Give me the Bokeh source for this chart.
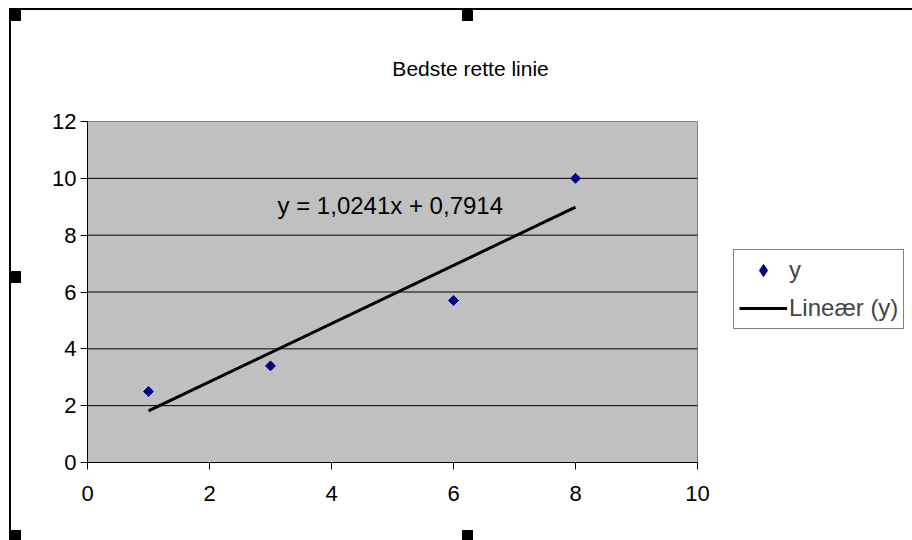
import numpy as np
from bokeh.plotting import figure
from bokeh.models import (Legend, LegendItem, Label, FixedTicker, Range1d,
                          InlineStyleSheet)
from bokeh.embed import file_html
from bokeh.resources import INLINE

# ---- data ----
x_vals = [1, 3, 6, 8]
y_vals = [2.5, 3.4, 5.7, 10]
slope = 1.0241
intercept = 0.7914
x_ticks = [0, 2, 4, 6, 8, 10]
y_ticks = [0, 2, 4, 6, 8, 10, 12]
grid_ticks = [2, 4, 6, 8, 10]
x_min, x_max = 0, 10
y_min, y_max = 0, 12
title_text = "Bedste rette linie"
equation_text = "y = 1,0241x + 0,7914"
series_name = "y"
trend_name = "Lineær (y)"

FONT = "Liberation Sans"

# page geometry (pixels)
W, H = 912, 540
PL, PR, PT, PB = 87, 697, 121, 462          # plot-area edges
frame_w = W - PL
frame_h = PB
x_end = x_min + (x_max - x_min) * frame_w / (PR - PL)
y_end = y_min + (y_max - y_min) * frame_h / (PB - PT)

p = figure(width=W, height=H, output_backend="svg", toolbar_location=None,
           x_range=Range1d(x_min, x_end), y_range=Range1d(y_min, y_end),
           min_border_left=PL, min_border_right=0, min_border_top=0,
           min_border_bottom=H - PB)
p.background_fill_color = "white"
p.border_fill_color = "white"
p.outline_line_color = None
p.xgrid.grid_line_color = None
p.ygrid.grid_line_color = None

# grey plot area
p.quad(left=[x_min], right=[x_max], bottom=[y_min], top=[y_max],
       fill_color="#C0C0C0", line_color="#808080", line_width=1)

# horizontal gridlines across the plot area only
p.segment(x0=[x_min] * len(grid_ticks), x1=[x_max] * len(grid_ticks),
          y0=grid_ticks, y1=grid_ticks, line_color="black", line_width=1)

# axes
for ax in (p.xaxis[0], p.yaxis[0]):
    ax.axis_line_color = "black"
    ax.axis_line_width = 1
    ax.major_tick_line_color = "black"
    ax.major_tick_out = 7
    ax.major_tick_in = 0
    ax.minor_tick_line_color = None
    ax.major_label_text_font = FONT
    ax.major_label_text_font_size = "22px"
    ax.major_label_text_color = "black"
p.xaxis[0].ticker = FixedTicker(ticks=x_ticks)
p.yaxis[0].ticker = FixedTicker(ticks=y_ticks)
p.xaxis[0].bounds = (x_min, x_max)
p.yaxis[0].bounds = (y_min, y_max)
p.xaxis[0].major_label_standoff = 16
p.yaxis[0].major_label_standoff = 4

# trend line
x_line = [min(x_vals), max(x_vals)]
y_line = [slope * xv + intercept for xv in x_line]
r_line = p.line(x_line, y_line, line_color="black", line_width=3)

# points: a diamond renderer (used for the legend key), covered by
# square-diamonds of equal width and height
r_pts = p.scatter(x_vals, y_vals, marker="diamond", size=9,
                  fill_color="#000080", line_color="#000080")
p.scatter(x_vals, y_vals, marker="square", angle=np.pi / 4, size=7,
          fill_color="#000080", line_color="#000080")

# equation label
p.add_layout(Label(x=3.115, y=9.03, text=equation_text, text_font=FONT,
                   text_font_size="24px", text_color="black",
                   text_baseline="middle", text_align="left"))

# title
p.add_layout(Label(x=6.28, y=13.87, text=title_text, text_font=FONT,
                   text_font_size="21px", text_color="black",
                   text_baseline="middle", text_align="center"))

legend = Legend(items=[LegendItem(label=series_name, renderers=[r_pts]),
                       LegendItem(label=trend_name, renderers=[r_line])],
                location=(733 - PL, PB - 329))
legend.label_text_font = FONT
legend.label_text_font_size = "24px"
legend.glyph_width = 48
legend.glyph_height = 30
legend.label_height = 30
legend.label_standoff = 2
legend.spacing = 8
legend.padding = 5
legend.margin = 0
legend.border_line_color = "black"
legend.border_line_width = 1
legend.background_fill_color = "white"
legend.background_fill_alpha = 1
p.add_layout(legend, "center")

# chart-object border and selection handles (decoration of the screenshot)
css = """
:host { position: relative; }
:host::after {
  content: ""; position: absolute; left: 0; top: 0; width: 100%; height: 100%;
  pointer-events: none; z-index: 100;
  background:
    linear-gradient(#000,#000) 9px 8px / 903px 2px no-repeat,
    linear-gradient(#000,#000) 9px 8px / 2px 532px no-repeat,
    linear-gradient(#000,#000) 9px 9px / 12px 12px no-repeat,
    linear-gradient(#000,#000) 462px 8px / 11px 13px no-repeat,
    linear-gradient(#000,#000) 9px 271px / 12px 12px no-repeat,
    linear-gradient(#000,#000) 9px 530px / 12px 10px no-repeat,
    linear-gradient(#000,#000) 462px 530px / 11px 10px no-repeat;
}
"""
p.stylesheets = [InlineStyleSheet(css=css)]

open("out.html", "w").write(file_html(p, INLINE))
